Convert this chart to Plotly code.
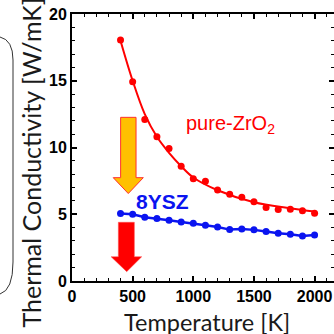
import plotly.graph_objects as go

# ---- data ----
temps = [400, 500, 600, 700, 800, 900, 1000, 1100, 1200, 1300, 1400, 1500, 1600, 1700, 1800, 1900, 2000]
zro2_k = [18.05, 14.93, 12.1, 10.8, 9.92, 8.6, 7.65, 7.47, 6.82, 6.5, 6.28, 5.94, 5.5, 5.35, 5.37, 5.27, 5.08]
ysz_k = [5.05, 5.0, 4.78, 4.68, 4.55, 4.42, 4.32, 4.18, 4.05, 3.85, 3.9, 3.83, 3.7, 3.57, 3.5, 3.38, 3.45]

# fitted curve for pure ZrO2
fit_t = [400, 500, 600, 700, 800, 900, 1000, 1200, 1500, 1800, 2000]
fit_k = [18.0, 15.0, 12.5, 10.8, 9.6, 8.6, 7.75, 6.8, 5.9, 5.45, 5.2]

x_ticks = [0, 500, 1000, 1500, 2000]
y_ticks = [0, 5, 10, 15, 20]

RED = "#ff0000"
BLUE = "#0a14f0"

fig = go.Figure()
fig.add_trace(go.Scatter(x=fit_t, y=fit_k, mode="lines",
                         line=dict(color=RED, width=2, shape="spline"), hoverinfo="skip"))
fig.add_trace(go.Scatter(x=temps, y=zro2_k, mode="markers",
                         marker=dict(color=RED, size=7)))
fig.add_trace(go.Scatter(x=temps, y=ysz_k, mode="lines+markers",
                         line=dict(color=BLUE, width=2.5), marker=dict(color=BLUE, size=7)))

L, T, W, H = 72, 14, 262, 267  # plot area in screen pixels
FIG = 334


def px(xp):
    return (xp - L) / W


def py(yp):
    return (T + H - yp) / H


shapes = []
# orange arrow (data coordinates)
shapes.append(dict(type="path", xref="x", yref="y",
                   path="M 401,12.26 L 528,12.26 L 528,7.74 L 588,7.74 L 464,6.55 L 340,7.74 L 401,7.74 Z",
                   fillcolor="#ffc000", line=dict(color="#ff3030", width=1)))
# red arrow
shapes.append(dict(type="path", xref="x", yref="y",
                   path="M 382,4.40 L 514,4.40 L 514,1.82 L 575,1.82 L 451,0.70 L 322,1.82 L 382,1.82 Z",
                   fillcolor="#ff0000", line=dict(color="#ff5050", width=0.5)))
# left bracket (part of a rounded box)
bpath = (f"M {px(0)},{py(37)} Q {px(13)},{py(40)} {px(13)},{py(60)} "
         f"L {px(13)},{py(262)} Q {px(13)},{py(290)} {px(0)},{py(294)}")
shapes.append(dict(type="path", xref="paper", yref="paper", path=bpath,
                   line=dict(color="#333333", width=1)))

fig.update_layout(
    width=FIG, height=FIG,
    margin=dict(l=L, r=FIG - L - W, t=T, b=FIG - T - H, autoexpand=False),
    paper_bgcolor="white", plot_bgcolor="white",
    showlegend=False,
    shapes=shapes,
    font=dict(family="Liberation Sans, Arial, sans-serif"),
)

tickfont = dict(family="Liberation Sans, Arial, sans-serif", size=16, color="black", weight="bold")

fig.update_xaxes(range=[0, 2160], tickvals=x_ticks, ticktext=[str(v) for v in x_ticks],
                 showline=True, linecolor="black", linewidth=2, mirror="ticks",
                 ticks="inside", ticklen=5, tickwidth=1.5, tickcolor="black",
                 minor=dict(dtick=100, tick0=0, ticks="inside", ticklen=3, tickwidth=1, tickcolor="black"),
                 showgrid=False, zeroline=False, tickfont=tickfont, automargin=False,
                 ticklabeloverflow="allow")
fig.update_yaxes(range=[0, 20], tickvals=y_ticks, ticktext=[str(v) for v in y_ticks],
                 showline=True, linecolor="black", linewidth=2, mirror="ticks",
                 ticks="inside", ticklen=5, tickwidth=1.5, tickcolor="black",
                 minor=dict(dtick=1, tick0=0, ticks="inside", ticklen=3, tickwidth=1, tickcolor="black"),
                 showgrid=False, zeroline=False, tickfont=tickfont, automargin=False,
                 ticklabeloverflow="allow")

fig.add_annotation(x=px(207), y=py(322), xref="paper", yref="paper", xanchor="center", yanchor="middle",
                   text="Temperature [K]", showarrow=False,
                   font=dict(family="Lato, sans-serif", size=23.5, color="#1a1a1a"))
fig.add_annotation(x=px(30), y=py(162.5), xref="paper", yref="paper", xanchor="center", yanchor="middle",
                   text="Thermal Conductivity [W/mK]", showarrow=False, textangle=-90,
                   font=dict(family="Lato, sans-serif", size=25, color="#1a1a1a"))

fig.add_annotation(x=925, y=11.75, xref="x", yref="y", xanchor="left", yanchor="middle",
                   text="pure-ZrO<sub>2</sub>", showarrow=False,
                   font=dict(family="Liberation Sans, Arial, sans-serif", size=20, color=RED))
fig.add_annotation(x=750, y=5.95, xref="x", yref="y", xanchor="center", yanchor="middle",
                   text="<b>8YSZ</b>", showarrow=False,
                   font=dict(family="Liberation Sans, Arial, sans-serif", size=21, color=BLUE))

# remove the browser's default page margin so the figure fills the window
fig.write_html("out.html", config={"displayModeBar": False},
               post_script="document.body.style.margin='0';document.body.style.overflow='hidden';")
